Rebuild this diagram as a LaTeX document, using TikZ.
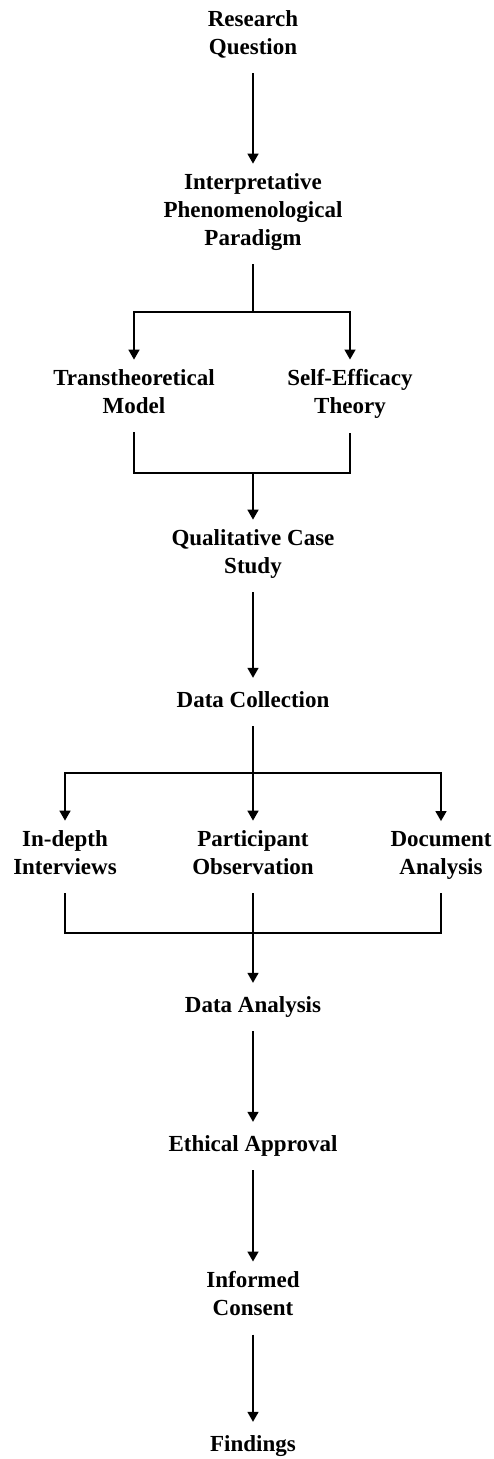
\documentclass[tikz,border=0pt]{standalone}
\usepackage{fontspec}
\setmainfont{Liberation Serif}
\usetikzlibrary{arrows.meta}

\begin{document}
\begin{tikzpicture}[x=1pt,y=-1pt]
\tikzset{stage/.style={font=\fontsize{23}{28}\selectfont\bfseries,align=center,inner xsep=4pt,inner ysep=10pt}}
\tikzset{execute at begin node=\strut,execute at end node=\strut}
\tikzset{link/.style={line width=1.6pt}}
\tikzset{flow/.style={link,-{Triangle[width=11pt,length=10pt]}}}
\useasboundingbox (0,0) rectangle (494,1459);
\node[stage] (question) at (253,37) {Research\\Question};
\node[stage] (paradigm) at (253,214) {Interpretative\\Phenomenological\\Paradigm};
\node[stage] (ttm) at (134,396) {Transtheoretical\\Model};
\node[stage] (set) at (350,396) {Self-Efficacy\\Theory};
\node[stage] (casestudy) at (253,556) {Qualitative Case\\Study};
\node[stage] (collection) at (253,702) {Data Collection};
\node[stage] (interviews) at (65,857) {In-depth\\Interviews};
\node[stage] (observation) at (253,857) {Participant\\Observation};
\node[stage] (documents) at (441,857) {Document\\Analysis};
\node[stage] (analysis) at (253,1007) {Data Analysis};
\node[stage] (approval) at (253,1146) {Ethical Approval};
\node[stage] (consent) at (253,1298) {Informed\\Consent};
\node[stage] (findings) at (253,1446) {Findings};
\coordinate (split1) at (253,312);
\coordinate (merge1) at (253,473);
\coordinate (split2) at (253,773);
\coordinate (merge2) at (253,933);
\draw[flow] (question) -- (paradigm);
\draw[link] (paradigm) -- (split1);
\draw[flow] (split1) -| (ttm);
\draw[flow] (split1) -| (set);
\draw[link] (ttm) |- (merge1) -| (set);
\draw[flow] (merge1) -- (casestudy);
\draw[flow] (casestudy) -- (collection);
\draw[flow] (collection) -- (observation);
\draw[flow] (split2) -| (interviews);
\draw[flow] (split2) -| (documents);
\draw[link] (interviews) |- (merge2) -| (documents);
\draw[flow] (observation) -- (analysis);
\draw[flow] (analysis) -- (approval);
\draw[flow] (approval) -- (consent);
\draw[flow] (consent) -- (findings);
\end{tikzpicture}
\end{document}
